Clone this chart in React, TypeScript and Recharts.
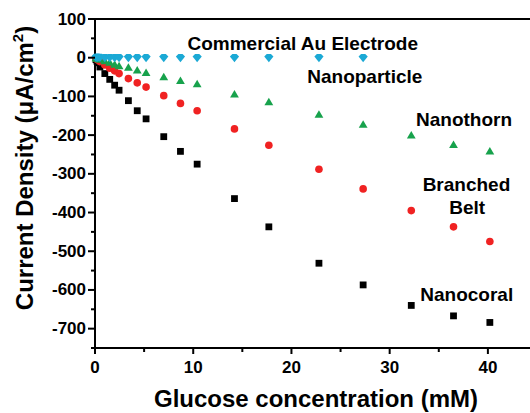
import { ScatterChart, Scatter, XAxis, YAxis, Label, ReferenceLine, ReferenceDot } from 'recharts';

const concentrations = [0.1, 0.2, 0.3, 0.5, 1.0, 1.5, 2.0, 2.45, 3.4, 4.3, 5.2, 7.0, 8.7, 10.4, 14.2, 17.7, 22.8, 27.3, 32.2, 36.5, 40.2];
const nanocoral = [-5, -9, -13, -24, -41, -56, -71, -84, -111, -137, -158, -204, -242, -275, -364, -437, -531, -587, -640, -667, -684];
const branchedBelt = [-2, -4, -6, -10, -19, -27, -34, -41, -54, -65, -76, -98, -118, -137, -184, -226, -288, -339, -395, -437, -475];
const nanothorn = [-1, -2, -3, -5, -9, -13, -18, -22, -26, -33, -39, -50, -60, -68, -95, -115, -147, -173, -201, -225, -242];
const commercialAu = [0, 0, 0, 0, -1, -1, -1, -1, -1, -1, -1, -1, -1, -1, -1, -1, -1, -1];

const xTicks = [0, 5, 10, 15, 20, 25, 30, 35, 40, 45];
const yTicks = [-750, -700, -650, -600, -550, -500, -450, -400, -350, -300, -250, -200, -150, -100, -50, 0, 50, 100];

const annotations = [
  { text: 'Commercial Au Electrode', x: 21.15, y: 19.7 },
  { text: 'Nanoparticle', x: 27.47, y: -64.8 },
  { text: 'Nanothorn', x: 37.57, y: -177.3 },
  { text: 'Branched', x: 37.82, y: -343.3 },
  { text: 'Belt', x: 37.9, y: -403.7 },
  { text: 'Nanocoral', x: 37.85, y: -628.4 },
];

const toPoints = (values: number[]) => values.map((v, i) => ({ x: concentrations[i], y: v }));

const FONT = '"Liberation Sans", Arial, sans-serif';

const SquareDot = (p: any) => <rect x={p.cx - 3.4} y={p.cy - 3.4} width={6.8} height={6.8} fill="#000" />;
const CircleDot = (p: any) => <circle cx={p.cx} cy={p.cy} r={3.8} fill="#f02222" />;
const TriangleDot = (p: any) => (
  <polygon points={`${p.cx},${p.cy - 4.4} ${p.cx + 4.4},${p.cy + 3.1} ${p.cx - 4.4},${p.cy + 3.1}`} fill="#17a24c" />
);
const DiamondDot = (p: any) => (
  <polygon
    points={`${p.cx - 4.6},${p.cy - 1.5} ${p.cx - 2.1},${p.cy - 4} ${p.cx + 2.1},${p.cy - 4} ${p.cx + 4.6},${p.cy - 1.5} ${p.cx},${p.cy + 4.2}`}
    fill="#1ba9d5"
  />
);

const XTick = ({ x, y, payload }: any) => {
  const major = payload.value % 10 === 0;
  return (
    <g>
      <line x1={x} x2={x} y1={y} y2={y + (major ? 6 : 4)} stroke="#000" strokeWidth={2} />
      {major && (
        <text x={x} y={y + 19} textAnchor="middle" dominantBaseline="central" fontFamily={FONT} fontWeight="bold" fontSize={17} fill="#000">
          {payload.value}
        </text>
      )}
    </g>
  );
};

const YTick = ({ x, y, payload }: any) => {
  const major = payload.value % 100 === 0;
  return (
    <g>
      <line x1={x} x2={x - (major ? 7 : 4)} y1={y} y2={y} stroke="#000" strokeWidth={2} />
      {major && (
        <text x={x - 9} y={y} textAnchor="end" dominantBaseline="central" fontFamily={FONT} fontWeight="bold" fontSize={17} fill="#000">
          {payload.value}
        </text>
      )}
    </g>
  );
};

export default function App() {
  return (
    <div style={{ position: 'absolute', left: 0, top: 0, width: 530, height: 413, overflow: 'hidden', background: '#fff' }}>
      <ScatterChart width={560} height={413} margin={{ top: 19, right: 23, bottom: 0, left: 0 }}>
        <XAxis
          type="number"
          dataKey="x"
          domain={[0, 45]}
          ticks={xTicks}
          interval={0}
          height={65}
          tickSize={0}
          tickMargin={0}
          tickLine={false}
          axisLine={{ stroke: '#000', strokeWidth: 2 }}
          tick={<XTick />}
        >
          <Label
            content={() => (
              <text x={316} y={407} textAnchor="middle" fontFamily={FONT} fontWeight="bold" fontSize={24} fill="#000">
                Glucose concentration (mM)
              </text>
            )}
          />
        </XAxis>
        <YAxis
          type="number"
          dataKey="y"
          domain={[-750, 100]}
          ticks={yTicks}
          interval={0}
          width={95}
          tickSize={0}
          tickMargin={0}
          tickLine={false}
          axisLine={{ stroke: '#000', strokeWidth: 2 }}
          tick={<YTick />}
        >
          <Label
            content={() => (
              <text x={33} y={168} transform="rotate(-90 33 168)" textAnchor="middle" fontFamily={FONT} fontWeight="bold" fontSize={24} fill="#000">
                Current Density (μA/cm
                <tspan fontSize={15} dy={-10}>2</tspan>
                <tspan dy={10}>)</tspan>
              </text>
            )}
          />
        </YAxis>
        <ReferenceLine y={100} stroke="#000" strokeWidth={2} ifOverflow="visible" />
        <Scatter data={toPoints(nanocoral)} shape={SquareDot} isAnimationActive={false} />
        <Scatter data={toPoints(branchedBelt)} shape={CircleDot} isAnimationActive={false} />
        <Scatter data={toPoints(nanothorn)} shape={TriangleDot} isAnimationActive={false} />
        <Scatter data={toPoints(commercialAu)} shape={DiamondDot} isAnimationActive={false} />
        {annotations.map((a) => (
          <ReferenceDot
            key={a.text}
            x={a.x}
            y={a.y}
            r={0}
            shape={(p: any) => (
              <text x={p.cx} y={p.cy} textAnchor="middle" fontFamily={FONT} fontWeight="bold" fontSize={19} fill="#000">
                {a.text}
              </text>
            )}
          />
        ))}
      </ScatterChart>
    </div>
  );
}
